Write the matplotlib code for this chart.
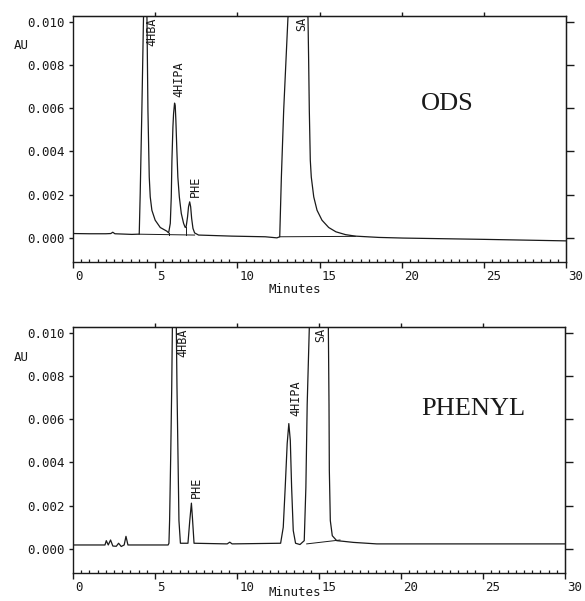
import matplotlib
matplotlib.use("Agg")
import matplotlib.pyplot as plt
import matplotlib.transforms as mtransforms

# ---------------- data ----------------
# ODS column trace: time (min), absorbance (AU)
ods_time = [0.0, 1.0, 2.0, 2.30, 2.42, 2.55, 3.58, 3.95, 4.03, 4.09, 4.19, 4.29, 4.40,
            4.50, 4.56, 4.64, 4.70, 4.80, 5.00, 5.31, 5.71, 5.82, 5.92, 5.98, 6.02,
            6.08, 6.12, 6.18, 6.22, 6.26, 6.32, 6.38, 6.47, 6.59, 6.73, 6.83, 6.89,
            6.97, 7.03, 7.10, 7.16, 7.22, 7.30, 7.40, 7.64, 9.67, 11.70, 12.41, 12.58,
            12.68, 12.82, 12.96, 13.08, 13.70, 14.30, 14.34, 14.38, 14.44, 14.50, 14.65,
            14.85, 15.15, 15.56, 16.00, 16.58, 17.18, 18.61, 20.10, 25.00, 30.0]
ods_au = [0.00019, 0.00018, 0.00018, 0.00019, 0.00025, 0.00018, 0.00015, 0.00016, 0.00016,
          0.00205, 0.00590, 0.01020, 0.01350, 0.01020, 0.00590, 0.00281, 0.00189,
          0.00127, 0.00081, 0.00047, 0.00030, 0.00022, 0.00066, 0.00189, 0.00359,
          0.00513, 0.00575, 0.00624, 0.00613, 0.00544, 0.00405, 0.00281, 0.00189,
          0.00112, 0.00066, 0.00047, 0.00053, 0.00096, 0.00143, 0.00166, 0.00143,
          0.00089, 0.00043, 0.00022, 0.00012, 0.00007, 0.00004, -0.00001, 0.00004,
          0.00281, 0.00590, 0.00822, 0.01020, 0.01250, 0.01020, 0.00820, 0.00590,
          0.00359, 0.00281, 0.00189, 0.00127, 0.00081, 0.00047, 0.00027, 0.00014,
          0.00007, 0.00001, -0.00002, -0.00008, -0.00015]
# integrator baselines / drop lines (ODS)
ods_base_time = [[4.03, 7.40], [12.58, 17.18], [5.82, 5.82], [6.86, 6.86]]
ods_base_au = [[0.00016, 0.00012], [0.00004, 0.00006], [0.00022, 0.00014], [0.00050, 0.00013]]

# PHENYL column trace
phe_time = [0.0, 1.5, 1.95, 2.03, 2.15, 2.29, 2.43, 2.64, 2.78, 2.94, 3.12, 3.23, 3.35, 5.0,
            5.80, 5.85, 5.89, 5.96, 6.02, 6.06, 6.18, 6.30, 6.34, 6.40, 6.46, 6.55,
            7.01, 7.12, 7.22, 7.28, 7.38, 9.40, 9.56, 9.70, 12.66, 12.82, 12.94,
            13.06, 13.16, 13.25, 13.33, 13.43, 13.57, 13.84, 14.10, 14.20, 14.28,
            14.41, 15.00, 15.57, 15.61, 15.63, 15.69, 15.81, 16.08, 16.48, 17.09,
            18.52, 25.0, 30.0]
phe_au = [0.00017, 0.00017, 0.00017, 0.00037, 0.00017, 0.00040, 0.00012, 0.00011, 0.00025,
          0.00010, 0.00017, 0.00057, 0.00017, 0.00017, 0.00017, 0.00025, 0.00130,
          0.00440, 0.00750, 0.01027, 0.02000, 0.01027, 0.00750, 0.00440, 0.00130,
          0.00025, 0.00025, 0.00130, 0.00211, 0.00146, 0.00025, 0.00022, 0.00030,
          0.00022, 0.00025, 0.00099, 0.00285, 0.00487, 0.00580, 0.00502, 0.00285,
          0.00084, 0.00025, 0.00019, 0.00037, 0.00285, 0.00670, 0.01027, 0.01400,
          0.01027, 0.00670, 0.00363, 0.00130, 0.00060, 0.00037, 0.00034, 0.00029,
          0.00022, 0.00022, 0.00022]
phe_base_time = [[14.25, 16.28]]
phe_base_au = [[0.00022, 0.00040]]

# peak labels: name, time, AU at label foot (None = hangs from top of plot)
ods_labels = [("4HBA", 4.78, None), ("4HIPA", 6.43, 0.00653), ("PHE", 7.42, 0.0019), ("SA", 13.93, None)]
phe_labels = [("4HBA", 6.72, None), ("PHE", 7.51, 0.00237), ("4HIPA", 13.59, 0.00614), ("SA", 15.12, None)]

column_names = ["ODS", "PHENYL"]
column_name_pos = [(22.8, 0.0062), (24.4, 0.00647)]

x_ticks = [0, 5, 10, 15, 20, 25, 30]
y_ticks = [0.000, 0.002, 0.004, 0.006, 0.008, 0.010]
y_tick_labels = ["0.000", "0.002", "0.004", "0.006", "0.008", "0.010"]

# ---------------- drawing ----------------
W, H = 585, 601
fig = plt.figure(figsize=(W / 100, H / 100), dpi=100)
mono = "DejaVu Sans Mono"
ink = "#1a1a1a"

panels = [
    dict(rect=[73 / W, 1 - 262 / H, 493 / W, 246 / H], t=ods_time, a=ods_au,
         bt=ods_base_time, ba=ods_base_au, labels=ods_labels, xl_y=-0.11, au_y=0.882),
    dict(rect=[73 / W, 1 - 573 / H, 492 / W, 246 / H], t=phe_time, a=phe_au,
         bt=phe_base_time, ba=phe_base_au, labels=phe_labels, xl_y=-0.08, au_y=0.876),
]

for i, p in enumerate(panels):
    ax = fig.add_axes(p["rect"])
    ax.plot(p["t"], p["a"], color=ink, lw=0.9)
    for bt, ba in zip(p["bt"], p["ba"]):
        ax.plot(bt, ba, color=ink, lw=0.7)
    ax.set_xlim(0, 30)
    ax.set_ylim(-0.00113, 0.01028)

    for s in ax.spines.values():
        s.set_linewidth(1.0)
        s.set_color(ink)

    ax.set_xticks(x_ticks)
    ax.set_xticklabels([str(v) for v in x_ticks])
    ax.set_xticks([v * 0.5 for v in range(61)], minor=True)
    ax.tick_params(axis="x", which="major", direction="out", length=4, width=1,
                   pad=1.5, labelsize=9, colors=ink, top=False)
    ax.tick_params(axis="x", which="minor", direction="in", length=2.2, width=0.9,
                   top=False, colors=ink)
    for lab in ax.get_xticklabels():
        lab.set_family(mono)
        lab.set_horizontalalignment("left")
        lab.set_transform(lab.get_transform() + mtransforms.ScaledTranslation(1.5 / 72, 0, fig.dpi_scale_trans))

    ax.set_yticks(y_ticks)
    ax.set_yticklabels(y_tick_labels)
    ax.tick_params(axis="y", which="major", direction="out", length=3, width=1,
                   pad=3.2, labelsize=9, colors=ink)
    for lab in ax.get_yticklabels():
        lab.set_family(mono)

    # top and right tick marks
    sx = ax.secondary_xaxis("top")
    sx.set_xticks([5, 10, 15, 20, 25])
    sx.set_xticklabels([])
    sx.tick_params(direction="out", length=3, width=1, colors=ink)
    sy = ax.secondary_yaxis("right")
    sy.set_yticks(y_ticks)
    sy.set_yticklabels([])
    sy.tick_params(direction="out", length=6, width=1, colors=ink)

    ax.text(-0.105, p["au_y"], "AU", transform=ax.transAxes, family=mono, fontsize=9,
            ha="center", va="center", color=ink)
    ax.text(0.45, p["xl_y"], "Minutes", transform=ax.transAxes, family=mono, fontsize=9,
            ha="center", va="center", color=ink)

    btrans = mtransforms.blended_transform_factory(ax.transData, ax.transAxes)
    for name, t, a in p["labels"]:
        if a is None:
            ax.text(t, 0.995, name, transform=btrans, rotation=90, family=mono, fontsize=8.5,
                    ha="center", va="top", color=ink)
        else:
            ax.text(t, a, name, rotation=90, family=mono, fontsize=8.5,
                    ha="center", va="bottom", color=ink)

    cx, cy = column_name_pos[i]
    ax.text(cx, cy, column_names[i], family="Liberation Serif", fontsize=19,
            ha="center", va="center", color=ink)

fig.savefig("out.png", dpi=100)
